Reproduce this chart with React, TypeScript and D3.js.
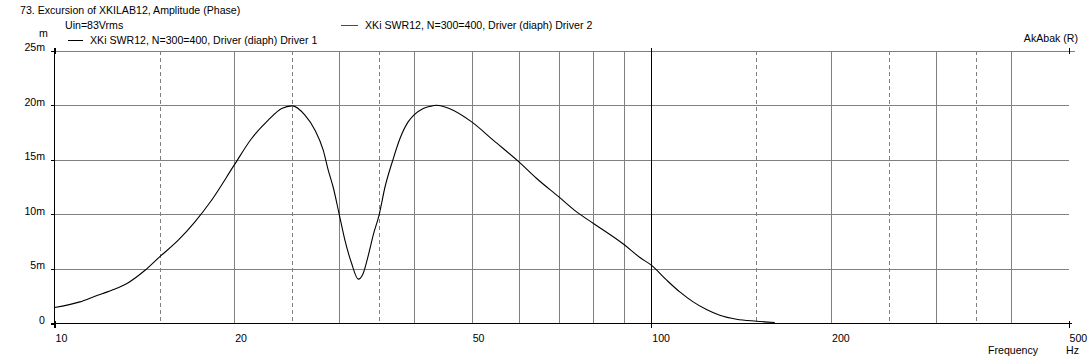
import React from "react";
import * as d3 from "d3";

const freqs = [10, 11.03, 11.69, 12.47, 13.29, 14.18, 15, 16.12, 17.19, 18.33, 20, 21.39, 22.81, 24.02, 25, 26.28, 27.32, 28.2, 28.75, 29.3, 30, 30.66, 31.47, 32.28, 32.9, 33.54, 34.2, 35, 35.79, 36.87, 37.92, 39.13, 40, 41.48, 42.56, 43.68, 45.85, 50, 54.33, 60, 64.25, 70, 74.95, 80, 90, 95.7, 100, 106.1, 111.6, 117.5, 123.7, 130.2, 138.9, 150, 161];
const driver1 = [1.47, 1.98, 2.5, 3.05, 3.74, 4.88, 6.1, 7.63, 9.31, 11.29, 14.5, 16.94, 18.62, 19.69, 19.93, 19.08, 17.7, 15.87, 14.04, 12.5, 9.98, 7.63, 5.49, 4.06, 4.58, 6.2, 8.1, 9.98, 12.5, 14.93, 16.94, 18.46, 19.08, 19.69, 19.88, 19.99, 19.69, 18.46, 16.79, 14.8, 13.28, 11.59, 10.22, 9.16, 7.23, 6.04, 5.34, 3.97, 2.89, 1.98, 1.28, 0.76, 0.39, 0.21, 0.09];

const yTicks = [0, 5, 10, 15, 20, 25];
const yTickLabels = ["0", "5m", "10m", "15m", "20m", "25m"];
const xLabelTicks = [10, 20, 50, 100, 200, 500];
const xSolidGrid = [20, 30, 40, 50, 60, 70, 80, 90, 200, 300, 400];
const xDashedGrid = [15, 25, 35, 150, 250, 350];
const xMajor = [10, 100, 500];

const title = "73. Excursion of XKILAB12, Amplitude (Phase)";
const subtitle = "Uin=83Vrms";
const legend1 = "XKi SWR12, N=300=400, Driver (diaph) Driver 1";
const legend2 = "XKi SWR12, N=300=400, Driver (diaph) Driver 2";

export default function App() {
  const left = 54.5, right = 1068.5, top = 50.5, bottom = 323.5;
  const x = d3.scaleLog().domain([10, 500]).range([left, right]);
  const y = d3.scaleLinear().domain([0, 25]).range([bottom, top]);
  const pts: [number, number][] = freqs.map((f, i) => [f, driver1[i]]);
  const line = d3
    .line<[number, number]>()
    .x((d) => x(d[0]))
    .y((d) => y(d[1]))
    .curve(d3.curveMonotoneX);
  const font = "'Liberation Sans', Arial, sans-serif";
  const fs = 10.6;
  const grey = "#808080";
  const px = (v: number) => Math.round(v) + 0.5;
  return (
    <svg width={1092} height={361} style={{ position: "absolute", left: 0, top: 0, background: "#fff" }} fontFamily={font} fontSize={fs}>
      <rect x={0} y={0} width={1092} height={361} fill="#fff" />
      {yTicks.filter((v) => v > 0).map((v) => (
        <line key={"h" + v} x1={left} x2={v === 25 ? right + 6 : right} y1={px(y(v))} y2={px(y(v))} stroke={grey} shapeRendering="crispEdges" />
      ))}
      {xSolidGrid.map((f) => (
        <line key={"s" + f} x1={px(x(f))} x2={px(x(f))} y1={top} y2={bottom} stroke={grey} shapeRendering="crispEdges" />
      ))}
      {xDashedGrid.map((f) => (
        <line key={"d" + f} x1={px(x(f))} x2={px(x(f))} y1={top} y2={bottom} stroke={grey} strokeDasharray="4,3" shapeRendering="crispEdges" />
      ))}
      <line x1={px(x(100))} x2={px(x(100))} y1={top - 3} y2={bottom + 4} stroke="#000" shapeRendering="crispEdges" />
      {xMajor.filter((f) => f !== 100).map((f) => (
        <g key={"m" + f}>
          <line x1={px(x(f))} x2={px(x(f))} y1={top - 3} y2={top + 3} stroke="#000" shapeRendering="crispEdges" />
          <line x1={px(x(f))} x2={px(x(f))} y1={bottom - 3} y2={bottom + 4} stroke="#000" shapeRendering="crispEdges" />
        </g>
      ))}
      <line x1={left} x2={left} y1={top - 3} y2={bottom + 4} stroke="#000" shapeRendering="crispEdges" />
      <line x1={left - 4} x2={right + 3} y1={bottom} y2={bottom} stroke="#000" shapeRendering="crispEdges" />
      {yTicks.map((v) => (
        <line key={"yt" + v} x1={left - 4} x2={left} y1={px(y(v))} y2={px(y(v))} stroke="#000" shapeRendering="crispEdges" />
      ))}
      <path d={line(pts) || ""} fill="none" stroke="#000" strokeWidth={1.1} />
      {yTicks.map((v, i) => (
        <text key={"yl" + v} x={45} y={y(v) + 0.5} textAnchor="end">{yTickLabels[i]}</text>
      ))}
      <text x={39} y={37}>m</text>
      {xLabelTicks.map((f) => (
        <text key={"xl" + f} x={x(f) + 1} y={342}>{f}</text>
      ))}
      <text x={988} y={354}>Frequency</text>
      <text x={1066} y={354}>Hz</text>
      <text x={20} y={14}>{title}</text>
      <text x={65} y={29}>{subtitle}</text>
      <line x1={68} x2={83} y1={40.5} y2={40.5} stroke="#000" shapeRendering="crispEdges" />
      <text x={90} y={44}>{legend1}</text>
      <line x1={341} x2={358} y1={25.5} y2={25.5} stroke="#ff0000" shapeRendering="crispEdges" />
      <text x={365} y={29}>{legend2}</text>
      <text x={1078} y={42} textAnchor="end">AkAbak (R)</text>
    </svg>
  );
}
